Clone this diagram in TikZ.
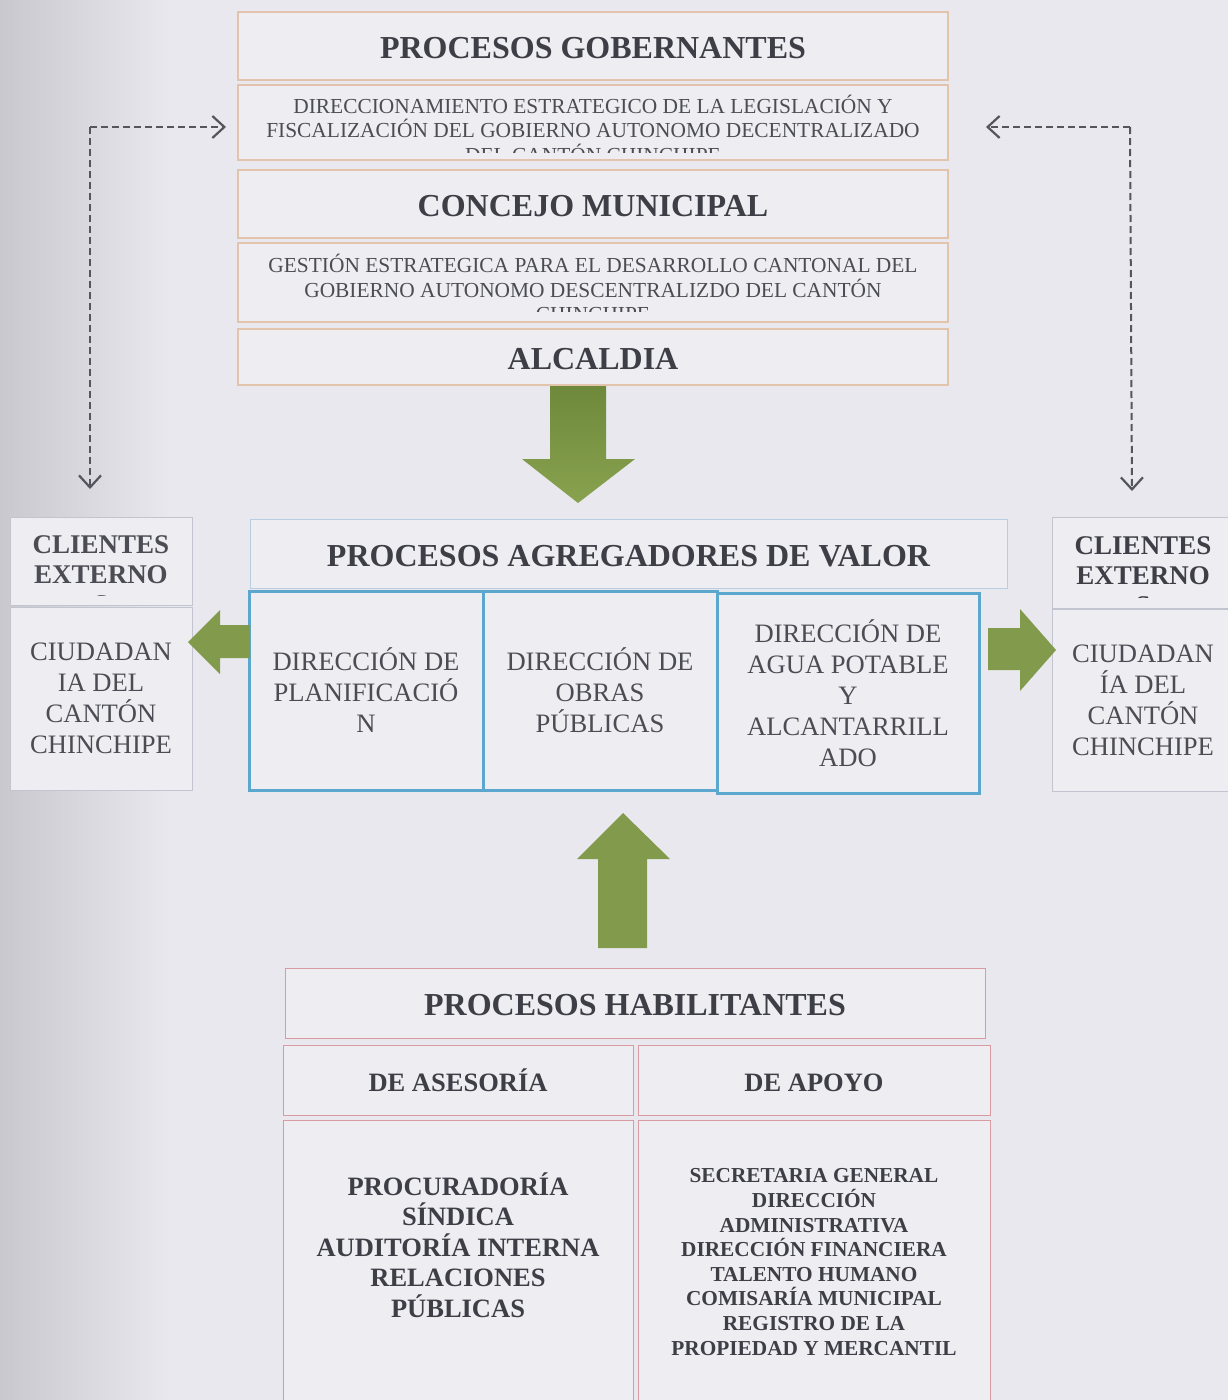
\documentclass[tikz,border=0pt]{standalone}
\usepackage{fontspec}
\setmainfont{Liberation Serif}
\usetikzlibrary{arrows.meta,calc}
\definecolor{bg}{HTML}{E8E8EE}
\definecolor{bgdark}{HTML}{C8C8CE}
\definecolor{boxfill}{HTML}{EDEDF2}
\definecolor{peach}{HTML}{E2C3AC}
\definecolor{pinkb}{HTML}{D99AA2}
\definecolor{lblue}{HTML}{B9CDE0}
\definecolor{tblue}{HTML}{5BA7CE}
\definecolor{cgray}{HTML}{C2C5D0}
\definecolor{txt}{HTML}{3E3E46}
\definecolor{txtl}{HTML}{4C4C54}
\definecolor{gdark}{HTML}{6E893B}
\definecolor{glight}{HTML}{88A24F}
\definecolor{gmid}{HTML}{819A4C}
\definecolor{dash}{HTML}{55555D}
\begin{document}
\begin{tikzpicture}[x=1pt,y=-1pt,
  base/.style={fill=boxfill, inner sep=0pt, align=center},
  gbox/.style={base, draw=peach, line width=1.3pt},
  hbox/.style={base, draw=pinkb, line width=1pt},
  abox/.style={base, draw=lblue, line width=1pt},
  bbox/.style={base, draw=tblue, line width=3pt},
  cbox/.style={base, draw=cgray, line width=1pt},
  ttl/.style={text=txt, font=\fontsize{32}{34}\selectfont\bfseries, text height=25pt, text depth=0pt},
  small/.style={text=txtl, align=center, inner sep=0pt, font=\fontsize{21.4}{24.5}\selectfont},
  mid/.style={text=txtl, align=center, inner sep=0pt, font=\fontsize{26.6}{31}\selectfont},
  midb/.style={text=txt, align=center, inner sep=0pt, font=\fontsize{26.5}{30.5}\selectfont\bfseries},
  dasharrow/.style={draw=dash, line width=2pt, dash pattern=on 7pt off 4pt, -{Straight Barb[length=12pt,width=22pt,line width=2.2pt]}},
  greenarrow/.style={fill=gmid, draw=none}
]
% background
\useasboundingbox (0,0) rectangle (1228,1400);
\fill[bg] (0,0) rectangle (1228,1400);
\shade[left color=bgdark, right color=bg] (0,0) rectangle (170,1400);

% governing block
\node[gbox, ttl, minimum width=710pt, minimum height=68pt] (gob) at (593,46) {PROCESOS GOBERNANTES};
\node[gbox, minimum width=710pt, minimum height=75pt] (dir) at (593,122.5) {};
\begin{scope}
  \clip (238,86) rectangle (948,152);
  \node[small] (dirtxt) at (593,128.5) {DIRECCIONAMIENTO ESTRATEGICO DE LA LEGISLACIÓN Y\\FISCALIZACIÓN DEL GOBIERNO AUTONOMO DECENTRALIZADO\\DEL CANTÓN CHINCHIPE};
\end{scope}
\node[gbox, ttl, minimum width=710pt, minimum height=68pt] (con) at (593,204) {CONCEJO MUNICIPAL};
\node[gbox, minimum width=710pt, minimum height=79pt] (ges) at (593,282.5) {};
\begin{scope}
  \clip (238,244) rectangle (948,311);
  \node[small] (gestxt) at (593,288) {GESTIÓN ESTRATEGICA PARA EL DESARROLLO CANTONAL DEL\\GOBIERNO AUTONOMO DESCENTRALIZDO DEL CANTÓN\\CHINCHIPE};
\end{scope}
\node[gbox, ttl, minimum width=710pt, minimum height=56pt] (alc) at (593,357) {ALCALDIA};

% down arrow
\shade[top color=gdark, bottom color=glight] (550,386) -- (606,386) -- (606,459) -- (635,459) -- (578,503) -- (522,459) -- (550,459) -- cycle;

% value-adding block
\node[abox, ttl, minimum width=757pt, minimum height=69pt] (agr) at (628.5,553.5) {PROCESOS AGREGADORES DE VALOR};
\node[bbox, mid, minimum width=234pt, minimum height=199pt] (p1) at (366,690.5) {DIRECCIÓN DE\\PLANIFICACIÓ\\N};
\node[bbox, mid, minimum width=234pt, minimum height=199pt] (p2) at (600,690.5) {DIRECCIÓN DE\\OBRAS\\PÚBLICAS};
\node[bbox, mid, minimum width=262pt, minimum height=200pt] (p3) at (848,693) {DIRECCIÓN DE\\AGUA POTABLE\\Y\\ALCANTARRILL\\ADO};

% clients left
\node[cbox, minimum width=182pt, minimum height=88pt] (clh) at (101,561) {};
\begin{scope}
  \clip (10,518) rectangle (192,595.5);
  \node[midb, text=txtl, font=\fontsize{27}{30}\selectfont\bfseries] (clhtxt) at (101,575) {CLIENTES\\EXTERNO\\S};
\end{scope}
\node[cbox, mid, text=txtl, minimum width=182pt, minimum height=183pt] (clb) at (101,698.5) {CIUDADAN\\IA DEL\\CANTÓN\\CHINCHIPE};
\draw[cgray, line width=1pt] (clh.south west) -- (clh.south east);

% clients right
\node[cbox, minimum width=182pt, minimum height=91pt] (crh) at (1143,562.5) {};
\begin{scope}
  \clip (1052,518) rectangle (1234,597);
  \node[midb, font=\fontsize{27}{30}\selectfont\bfseries] (crhtxt) at (1143,576) {CLIENTES\\EXTERNO\\S};
\end{scope}
\node[cbox, mid, minimum width=182pt, minimum height=182pt] (crb) at (1143,700) {CIUDADAN\\ÍA DEL\\CANTÓN\\CHINCHIPE};

% side arrows
\fill[gmid] (250,625) -- (220,625) -- (220,610) -- (188,642) -- (220,674) -- (220,658) -- (250,658) -- cycle;
\fill[gmid] (988,628) -- (1020,628) -- (1020,609) -- (1056,650) -- (1020,691) -- (1020,670) -- (988,670) -- cycle;

% up arrow
\fill[gmid] (623,813) -- (670,859) -- (647,859) -- (647,948) -- (598,948) -- (598,859) -- (577,859) -- cycle;

% enabling block
\node[hbox, ttl, minimum width=700pt, minimum height=70pt] (hab) at (635,1003) {PROCESOS HABILITANTES};
\node[hbox, midb, minimum width=350pt, minimum height=70pt] (ase) at (458,1080) {DE ASESORÍA};
\node[hbox, midb, minimum width=352pt, minimum height=70pt] (apo) at (814,1080) {\vphantom{Í}DE APOYO};
\node[hbox, minimum width=350pt, minimum height=300pt] (asel) at (458,1270) {};
\node[hbox, minimum width=352pt, minimum height=300pt] (apol) at (814,1270) {};
\node[midb] (aseltxt) at (458,1245) {PROCURADORÍA\\SÍNDICA\\AUDITORÍA INTERNA\\RELACIONES\\PÚBLICAS};
\node[text=txt, align=center, inner sep=0pt, font=\fontsize{21.3}{24.6}\selectfont\bfseries] (apoltxt) at (814,1262) {SECRETARIA GENERAL\\DIRECCIÓN\\ADMINISTRATIVA\\DIRECCIÓN FINANCIERA\\TALENTO HUMANO\\COMISARÍA MUNICIPAL\\REGISTRO DE LA\\PROPIEDAD Y MERCANTIL};

% dashed connectors
\coordinate (lc) at (90,127);
\coordinate (lt) at (226,127);
\coordinate (lb) at (90,489);
\coordinate (rc) at (1130,127);
\coordinate (rt) at (986,127);
\coordinate (rb) at (1132,491);
\draw[dasharrow] (lc) -- (lt);
\draw[dasharrow] (lc) -- (lb);
\draw[dasharrow] (rc) -- (rt);
\draw[dasharrow] (rc) -- (rb);
\end{tikzpicture}
\end{document}
